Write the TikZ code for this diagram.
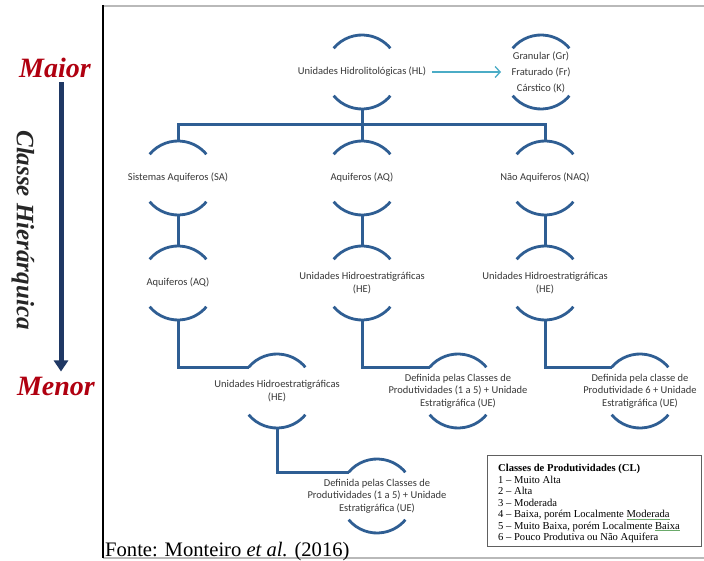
\documentclass[tikz,border=0pt]{standalone}
\usepackage{fontspec}
\setmainfont{Liberation Serif}
\newfontfamily\calfont{Carlito}
\usetikzlibrary{arrows.meta}
\definecolor{arcblue}{HTML}{2F5E93}
\definecolor{txtgray}{HTML}{383838}
\definecolor{darkred}{HTML}{B00010}
\definecolor{navyc}{HTML}{1F3864}
\definecolor{tealc}{HTML}{4BACC6}
\definecolor{spell}{HTML}{6AAA6A}
\newcommand\ringarcs[1]{%
  \draw[arcline] (#1.140) arc[start angle=140,end angle=40,radius=37pt];
  \draw[arcline] (#1.220) arc[start angle=220,end angle=320,radius=37pt];}
\newcommand\spellul[1]{\setbox0\hbox{#1}\rlap{\color{spell}\rule[-1.6pt]{\wd0}{0.5pt}}\box0}
\begin{document}
\begin{tikzpicture}[x=1pt,y=1pt,
  ring/.style={circle,minimum size=74pt,inner sep=0pt,outer sep=0pt},
  lbl/.style={font=\calfont\fontsize{10.5}{12.5}\selectfont,text=txtgray,align=center,inner sep=0pt},
  arcline/.style={draw=arcblue,line width=2.8pt},
  conn/.style={draw=arcblue,line width=3pt},
  big/.style={font=\fontsize{28}{30}\selectfont\bfseries\itshape,text=darkred,inner sep=0pt}]
\useasboundingbox (0,0) rectangle (704,-561);
\fill[white] (0,0) rectangle (704,-561);

% frame
\draw[gray!55, line width=2pt] (103,-6) -- (704,-6);
\draw[gray!55, line width=1.5pt] (103,-558) -- (704,-558);
\draw[black, line width=1.5pt] (103,-5) -- (103,-558);

% left scale
\node[big] (maior) at (55,-68) {Maior};
\node[big] (menor) at (56,-386) {Menor};
\draw[navyc, line width=5pt, -{Triangle[length=11pt,width=14pt]}, shorten <=4pt, shorten >=5pt]
  ([xshift=6pt]maior.south) -- ([xshift=5pt]menor.north);
\node[font=\fontsize{25}{27}\selectfont\bfseries\itshape, rotate=-90, text=black!85, inner sep=0pt] (ch) at (23,-230) {Classe Hierárquica};

% nodes
\node[ring] (hl) at (362,-72) {};
\node[lbl] (hlt) at (hl) {Unidades Hidrolitológicas (HL)};
\node[ring] (gfk) at (541,-72) {};
\node[lbl, font=\calfont\fontsize{10.5}{16}\selectfont] (gfkt) at (gfk) {Granular (Gr)\\Fraturado (Fr)\\Cárstico (K)};

\node[ring] (sa) at (178,-178) {};
\node[lbl] (sat) at (sa) {Sistemas Aquiferos (SA)};
\node[ring] (aq) at (362,-178) {};
\node[lbl] (aqt) at (aq) {Aquiferos (AQ)};
\node[ring] (naq) at (545,-178) {};
\node[lbl] (naqt) at (naq) {Não Aquiferos (NAQ)};

\node[ring] (aqb) at (178,-283) {};
\node[lbl] (aqbt) at (aqb) {Aquiferos (AQ)};
\node[ring] (hea) at (362,-283) {};
\node[lbl] (heat) at (hea) {Unidades Hidroestratigráficas\\(HE)};
\node[ring] (heb) at (545,-283) {};
\node[lbl] (hebt) at (heb) {Unidades Hidroestratigráficas\\(HE)};

\node[ring] (hec) at (277,-391) {};
\node[lbl] (hect) at (hec) {Unidades Hidroestratigráficas\\(HE)};
\node[ring] (da) at (458,-391) {};
\node[lbl] (dat) at (da) {Definida pelas Classes de\\Produtividades (1 a 5) + Unidade\\Estratigráfica (UE)};
\node[ring] (db) at (640,-391) {};
\node[lbl] (dbt) at (db) {Definida pela classe de\\Produtividade 6 + Unidade\\Estratigráfica (UE)};

\node[ring] (dc) at (377,-496) {};
\node[lbl] (dct) at (dc) {Definida pelas Classes de\\Produtividades (1 a 5) + Unidade\\Estratigráfica (UE)};

\foreach \n in {hl,gfk,sa,aq,naq,aqb,hea,heb,hec,da,db,dc} {\ringarcs{\n}}

% connectors
\coordinate (bar) at (0,-125);
\draw[conn] (hl.south) -- (aq.north);
\draw[conn] (sa.north) -- (sa.north |- bar) -- (naq.north |- bar) -- (naq.north);
\draw[conn] (sa.south) -- (aqb.north);
\draw[conn] (aq.south) -- (hea.north);
\draw[conn] (naq.south) -- (heb.north);
\draw[conn] (aqb.south) |- (hec.140);
\draw[conn] (hea.south) |- (da.140);
\draw[conn] (heb.south) |- (db.140);
\draw[conn] (hec.south) |- (dc.140);

\draw[tealc, line width=1.3pt, -{Straight Barb[length=5pt,width=11pt]}]
  ([xshift=6pt]hlt.east) -- ([xshift=-3pt]gfk.west);

% legend
\node[draw=gray!75!black, line width=1.2pt, minimum width=214pt, minimum height=91pt, anchor=north west, inner sep=0pt] (leg) at (487,-455) {};
\node[anchor=north west, align=left, inner sep=0pt, font=\fontsize{10.6}{11.5}\selectfont] (legt) at ([xshift=11pt,yshift=-9pt]leg.north west)
 {\textbf{Classes de Produtividades (CL)}\\
  1 – Muito Alta\\
  2 – Alta\\
  3 – Moderada\\
  4 – Baixa, porém Localmente \spellul{Moderada}\\
  5 – Muito Baixa, porém Localmente \spellul{Baixa}\\
  6 – Pouco Produtiva ou Não Aquifera};

% source
\node[anchor=base west, inner sep=0pt, font=\fontsize{20.6}{22}\selectfont] (fonte) at (105,-556) {Fonte: Monteiro \textit{et al.} (2016)};
\end{tikzpicture}
\end{document}
